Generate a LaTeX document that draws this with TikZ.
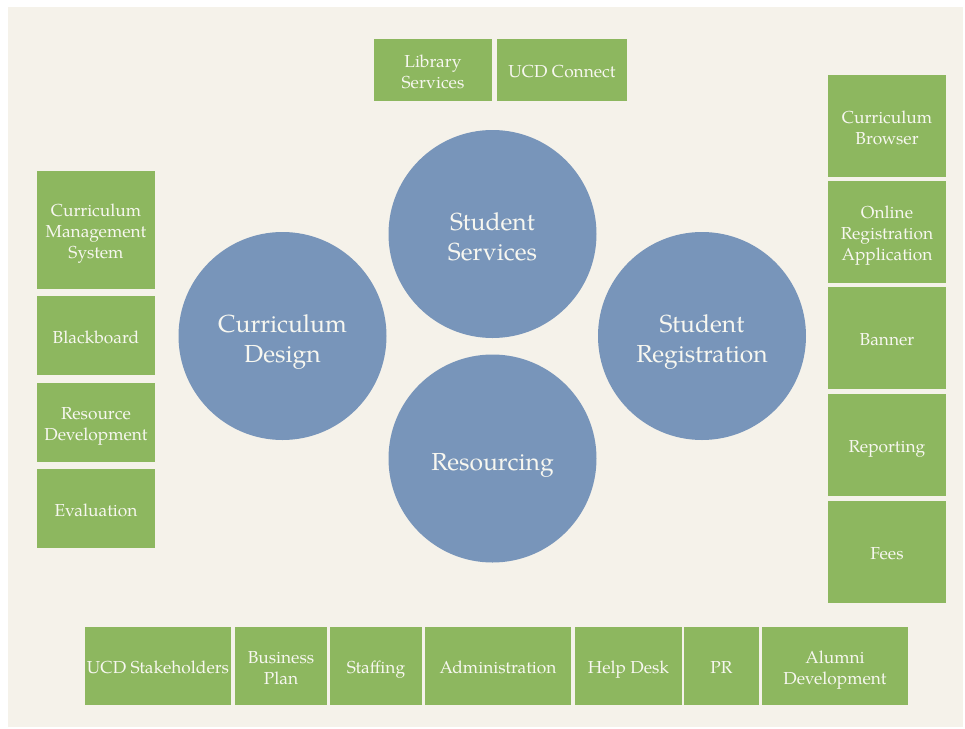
\documentclass[tikz,border=0pt]{standalone}
\usepackage{fontspec}
\setmainfont{TeX Gyre Pagella}
\definecolor{paper}{HTML}{F5F2EA}
\definecolor{boxgreen}{HTML}{8DB75F}
\definecolor{circblue}{HTML}{7895BA}
\definecolor{txt}{HTML}{F7F7F0}
\newcommand{\btx}[1]{\smash{#1}\rule[-0.7pt]{0pt}{13pt}}
\newcommand{\ctx}[1]{\smash{#1}\rule[-0.5pt]{0pt}{18.5pt}}
\tikzset{
  gbox/.style={fill=boxgreen, text=txt, align=center, inner sep=0pt,
    font=\fontsize{13pt}{15.75pt}\selectfont, minimum height=58.5pt},
  bcirc/.style={circle, fill=circblue, text=txt, align=center, inner sep=0pt,
    minimum size=156pt, font=\fontsize{18.5pt}{22.5pt}\selectfont}
}
\begin{document}
\begin{tikzpicture}[x=0.75pt,y=-0.75pt]
\useasboundingbox (0,0) rectangle (965,729);
\fill[white] (0,0) rectangle (965,729);
\fill[paper] (8,7) rectangle (963,727);
% top
\node[gbox, minimum width=88.5pt, minimum height=46.5pt] (lib) at (433,70) {\btx{Library}\\\btx{Services}};
\node[gbox, minimum width=97.5pt, minimum height=46.5pt] (ucd) at (562,70) {\btx{UCD Connect}};
% left
\node[gbox, minimum width=88.5pt, minimum height=88.5pt] (cms) at (96,230) {\btx{Curriculum}\\\btx{Management}\\\btx{System}};
\node[gbox, minimum width=88.5pt, minimum height=59.25pt] (bb) at (96,335.5) {\btx{Blackboard}};
\node[gbox, minimum width=88.5pt, minimum height=59.25pt] (rd) at (96,422.5) {\btx{Resource}\\\btx{Development}};
\node[gbox, minimum width=88.5pt, minimum height=59.25pt] (ev) at (96,508.5) {\btx{Evaluation}};
% right
\node[gbox, minimum width=88.5pt, minimum height=76.5pt] (cb) at (887,126) {\btx{Curriculum}\\\btx{Browser}};
\node[gbox, minimum width=88.5pt, minimum height=76.5pt] (ora) at (887,232) {\btx{Online}\\\btx{Registration}\\\btx{Application}};
\node[gbox, minimum width=88.5pt, minimum height=76.5pt] (ban) at (887,338) {\btx{Banner}};
\node[gbox, minimum width=88.5pt, minimum height=76.5pt] (rep) at (887,445) {\btx{Reporting}};
\node[gbox, minimum width=88.5pt, minimum height=76.5pt] (fees) at (887,552) {\btx{Fees}};
% bottom
\node[gbox, minimum width=109.5pt] (st) at (158,666) {\btx{UCD Stakeholders}};
\node[gbox, minimum width=69pt] (bp) at (281,666) {\btx{Business}\\\btx{Plan}};
\node[gbox, minimum width=69pt] (sf) at (376,666) {\btx{Staffing}};
\node[gbox, minimum width=109.5pt] (ad) at (498,666) {\btx{Administration}};
\node[gbox, minimum width=80.25pt] (hd) at (628.5,666) {\btx{Help Desk}};
\node[gbox, minimum width=56.25pt] (pr) at (721.5,666) {\btx{PR}};
\node[gbox, minimum width=109.5pt] (al) at (835,666) {\btx{Alumni}\\\btx{Development}};
% circles
\node[bcirc] (ss) at (492.5,234) {\ctx{Student}\\\ctx{Services}};
\node[bcirc] (cd) at (282.5,336) {\ctx{Curriculum}\\\ctx{Design}};
\node[bcirc] (sr) at (702,336) {\ctx{Student}\\\ctx{Registration}};
\node[bcirc] (rs) at (492.5,458.5) {\ctx{Resourcing}};
\end{tikzpicture}
\end{document}
